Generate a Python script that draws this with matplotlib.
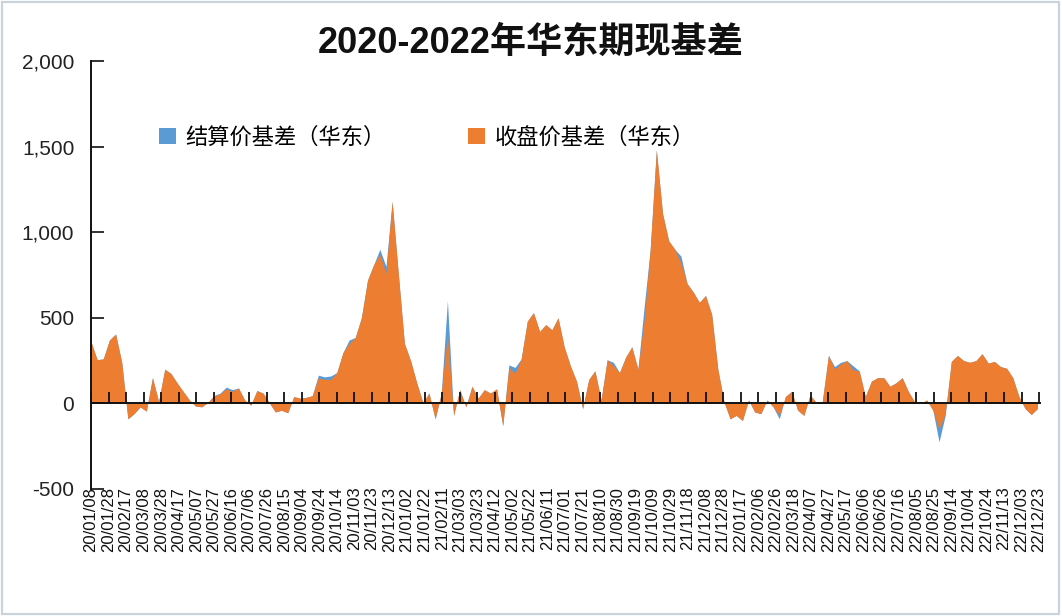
import matplotlib
matplotlib.use("Agg")
import matplotlib.pyplot as plt
import matplotlib.dates as mdates
from matplotlib.patches import Rectangle
from matplotlib.ticker import FuncFormatter, FixedLocator
import pandas as pd

plt.rcParams['font.family'] = ['Liberation Sans', 'Noto Sans CJK SC', 'DejaVu Sans']

# ---- data (weekly readings, 2020-01-08 onward) ----
start_date = "2020-01-08"
n_points = 155

close_basis = [
    360, 255, 260, 370, 405, 240, -90, -60, -20, -45,
    150, 10, 200, 175, 120, 70, 20, -15, -20, 5,
    45, 55, 85, 70, 90, 20, -10, 75, 60, 5,
    -50, -40, -55, 40, 30, 35, 45, 150, 140, 140,
    180, 297, 350, 385, 500, 720, 810, 870, 760, 1180,
    760, 350, 250, 120, 5, 60, -90, 60, 400, -70,
    80, -20, 100, 30, 80, 60, 85, -130, 210, 175,
    260, 480, 530, 420, 460, 430, 500, 330, 220, 130,
    -30, 140, 190, 20, 255, 220, 180, 270, 330, 200,
    480, 900, 1480, 1110, 950, 900, 820, 700, 650, 590,
    630, 520, 200, 10, -90, -70, -100, 20, -50, -60,
    20, -20, -70, 40, 70, -40, -70, 50, 5, 10,
    280, 200, 230, 250, 195, 190, 40, 130, 150, 150,
    100, 120, 150, 70, 10, 0, 20, -40, -150, -60,
    245, 280, 250, 240, 250, 290, 235, 245, 215, 205,
    150, 40, -30, -65, -30,
]

settle_basis = [
    360, 255, 260, 370, 405, 240, -90, -60, -20, -45,
    150, 10, 200, 175, 120, 70, 20, -15, -20, 5,
    45, 60, 95, 80, 90, 20, -10, 75, 60, 5,
    -50, -40, -55, 40, 30, 35, 45, 165, 155, 160,
    180, 297, 370, 385, 500, 720, 810, 900, 800, 1180,
    760, 350, 250, 120, 5, 60, -90, 60, 600, -70,
    80, -20, 100, 30, 80, 60, 85, -130, 225, 210,
    260, 480, 530, 420, 460, 430, 500, 330, 220, 130,
    -30, 140, 190, 20, 255, 240, 180, 270, 330, 200,
    560, 900, 1480, 1110, 950, 900, 860, 700, 650, 590,
    630, 520, 200, 10, -90, -70, -100, 20, -50, -60,
    20, -20, -90, 40, 70, -40, -70, 50, 5, 10,
    280, 215, 240, 250, 220, 190, 40, 130, 150, 150,
    100, 120, 150, 70, 10, 0, 20, -40, -225, -70,
    245, 280, 250, 240, 250, 290, 235, 245, 215, 205,
    150, 40, -30, -65, -30,
]

tick_labels = [
    "20/01/08", "20/01/28", "20/02/17", "20/03/08", "20/03/28", "20/04/17",
    "20/05/07", "20/05/27", "20/06/16", "20/07/06", "20/07/26", "20/08/15",
    "20/09/04", "20/09/24", "20/10/14", "20/11/03", "20/11/23", "20/12/13",
    "21/01/02", "21/01/22", "21/02/11", "21/03/03", "21/03/23", "21/04/12",
    "21/05/02", "21/05/22", "21/06/11", "21/07/01", "21/07/21", "21/08/10",
    "21/08/30", "21/09/19", "21/10/09", "21/10/29", "21/11/18", "21/12/08",
    "21/12/28", "22/01/17", "22/02/06", "22/02/26", "22/03/18", "22/04/07",
    "22/04/27", "22/05/17", "22/06/06", "22/06/26", "22/07/16", "22/08/05",
    "22/08/25", "22/09/14", "22/10/04", "22/10/24", "22/11/13", "22/12/03",
    "22/12/23",
]

series_names = ["结算价基差（华东）", "收盘价基差（华东）"]
title = "2020-2022年华东期现基差"
y_ticks = [-500, 0, 500, 1000, 1500, 2000]

# ---- figure ----
dates = pd.date_range(start_date, periods=n_points, freq="7D")
tick_dates = [pd.to_datetime(s, format="%y/%m/%d") for s in tick_labels]

fig = plt.figure(figsize=(10.62, 6.16), dpi=100)
fig.patch.set_facecolor("white")
fig.add_artist(Rectangle((0.002, 0.004), 0.995, 0.992, transform=fig.transFigure,
                         fill=False, edgecolor="#c9d3dc", linewidth=1.6))

ax = fig.add_axes([91 / 1062, 1 - 489 / 616, 949 / 1062, 428 / 616])
BLUE = "#5B9BD5"
ORANGE = "#ED7D31"
ax.fill_between(dates, 0, settle_basis, color=BLUE, linewidth=0, label=series_names[0])
ax.fill_between(dates, 0, close_basis, color=ORANGE, linewidth=0, label=series_names[1])

ax.set_ylim(-500, 2000)
ax.set_xlim(pd.Timestamp("2020-01-08"), pd.Timestamp("2022-12-24"))

ax.set_yticks(y_ticks)
ax.yaxis.set_major_formatter(FuncFormatter(lambda v, p: f"{int(v):,}"))
ax.tick_params(axis="y", direction="in", length=9, width=1.3, pad=12,
               labelsize=15, colors="#222222")

ax.xaxis.set_major_locator(FixedLocator(mdates.date2num(tick_dates)))
ax.set_xticklabels(tick_labels, family="DejaVu Sans")
ax.spines["bottom"].set_position(("data", 0))
ax.tick_params(axis="x", direction="in", length=8, width=1.3, pad=60,
               labelsize=12, labelrotation=90, colors="#111111")

for s in ["top", "right"]:
    ax.spines[s].set_visible(False)
for s in ["left", "bottom"]:
    ax.spines[s].set_linewidth(1.4)
    ax.spines[s].set_color("#111111")
ax.set_facecolor("none")

fig.text(0.5, 1 - 43 / 616, title, ha="center", va="center",
         fontsize=26, fontweight="bold", color="#111111",
         family=["Liberation Sans", "Noto Sans CJK SC"])

leg = ax.legend(loc="upper left", bbox_to_anchor=(48 / 949, 1 - 45 / 428),
                ncol=2, frameon=False, handlelength=0.75,
                handleheight=0.75, handletextpad=0.45, columnspacing=3.7,
                prop={"family": ["Noto Sans CJK SC"], "size": 16})

fig.savefig("out.png", dpi=100)
